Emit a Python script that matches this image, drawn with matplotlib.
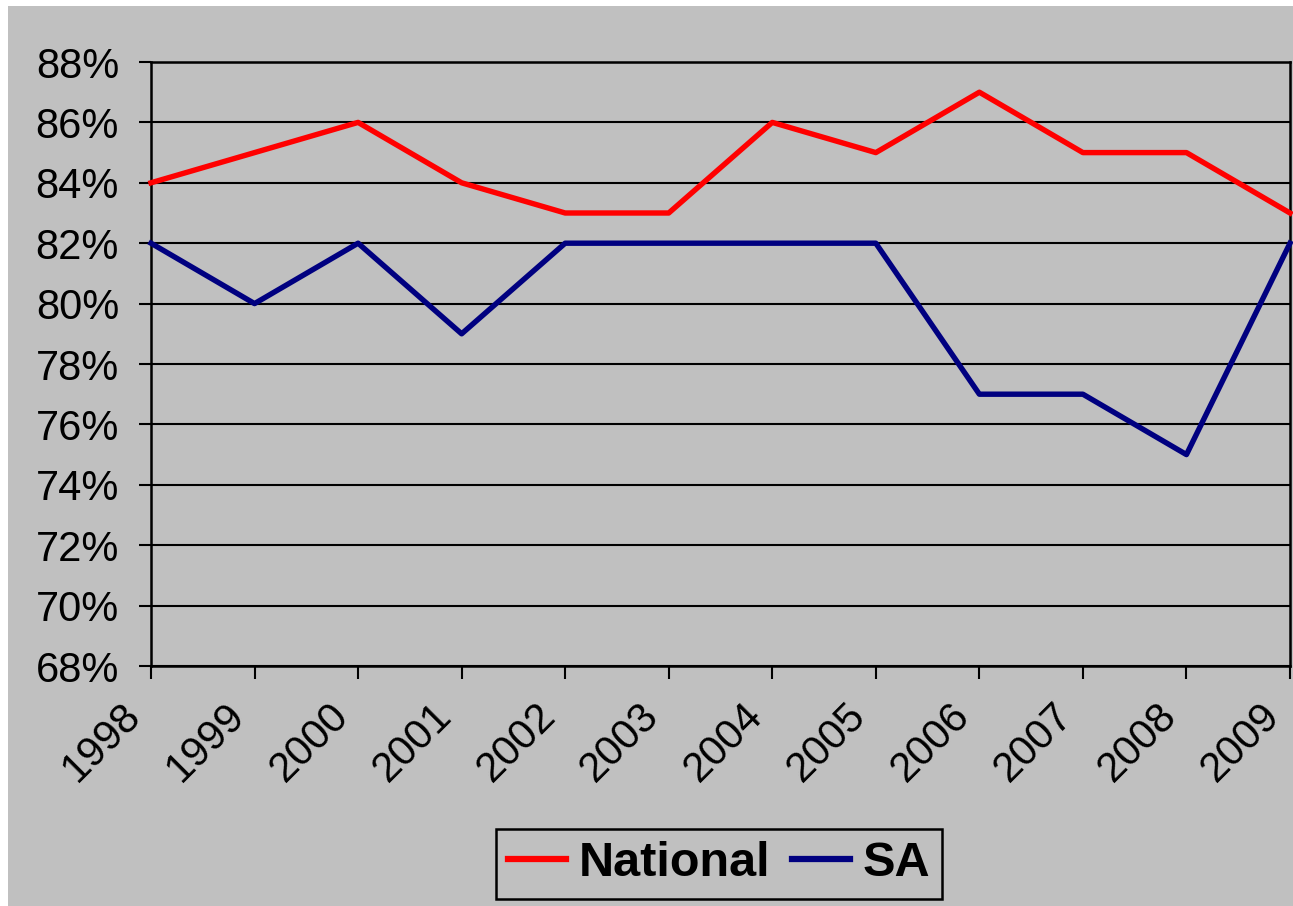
import numpy as np
import matplotlib.pyplot as plt
import matplotlib.transforms as mtransforms
from matplotlib.patches import Rectangle
from matplotlib.ticker import FuncFormatter

plt.rcParams['font.family'] = ['Liberation Sans', 'DejaVu Sans']

years = ['1998', '1999', '2000', '2001', '2002', '2003',
         '2004', '2005', '2006', '2007', '2008', '2009']
national = [84, 85, 86, 84, 83, 83, 86, 85, 87, 85, 85, 83]
sa = [82, 80, 82, 79, 82, 82, 82, 82, 77, 77, 75, 82]

grey = '#c0c0c0'

fig = plt.figure(figsize=(12.93, 9.06), dpi=100)
fig.patch.set_facecolor('white')
# grey chart area, white sliver on top and left
fig.patches.append(Rectangle((8 / 1293, 0), 1, 900 / 906, transform=fig.transFigure,
                             facecolor=grey, edgecolor='none', zorder=-10))

ax = fig.add_axes([151 / 1293, 1 - 666 / 906, (1290 - 151) / 1293, (666 - 62) / 906])
ax.set_facecolor(grey)

xx = np.arange(len(years))
ax.plot(xx, national, color='#ff0000', lw=3.9, label='National', clip_on=False, zorder=3)
ax.plot(xx, sa, color='#000080', lw=3.9, label='SA', clip_on=False, zorder=3)

ax.set_xlim(0, len(years) - 1)
ax.set_ylim(68, 88)
ax.set_yticks(np.arange(68, 89, 2))
ax.yaxis.set_major_formatter(FuncFormatter(lambda v, p: f'{v:.0f}%'))
ax.set_xticks(xx)
ax.set_xticklabels(years, rotation=45, ha='right', va='top', rotation_mode='anchor')

ax.grid(axis='y', color='black', lw=1.5)
ax.set_axisbelow(True)
for s in ax.spines.values():
    s.set_color('black')
    s.set_linewidth(1.8)

ax.tick_params(axis='both', direction='out', length=9, width=1.5, labelsize=30, color='black')
ax.tick_params(axis='y', pad=14)
ax.tick_params(axis='x', pad=12)

# nudge the rotated year labels left, like the original
shift = mtransforms.ScaledTranslation(-30 / 100, 0, fig.dpi_scale_trans)
for lab in ax.get_xticklabels():
    lab.set_transform(lab.get_transform() + shift)

leg = fig.legend(loc='center', bbox_to_anchor=(719 / 1293, 1 - 864 / 906), ncol=2,
                 prop={'weight': 'bold', 'size': 35}, frameon=True, fancybox=False,
                 edgecolor='black', facecolor=grey, framealpha=1,
                 handlelength=1.2, handletextpad=0.25, columnspacing=0.45,
                 borderpad=0.25, borderaxespad=0)
leg.get_frame().set_linewidth(1.8)
for h in leg.get_lines():
    h.set_linewidth(4.5)

fig.savefig('out.png', dpi=100, facecolor=fig.get_facecolor())
